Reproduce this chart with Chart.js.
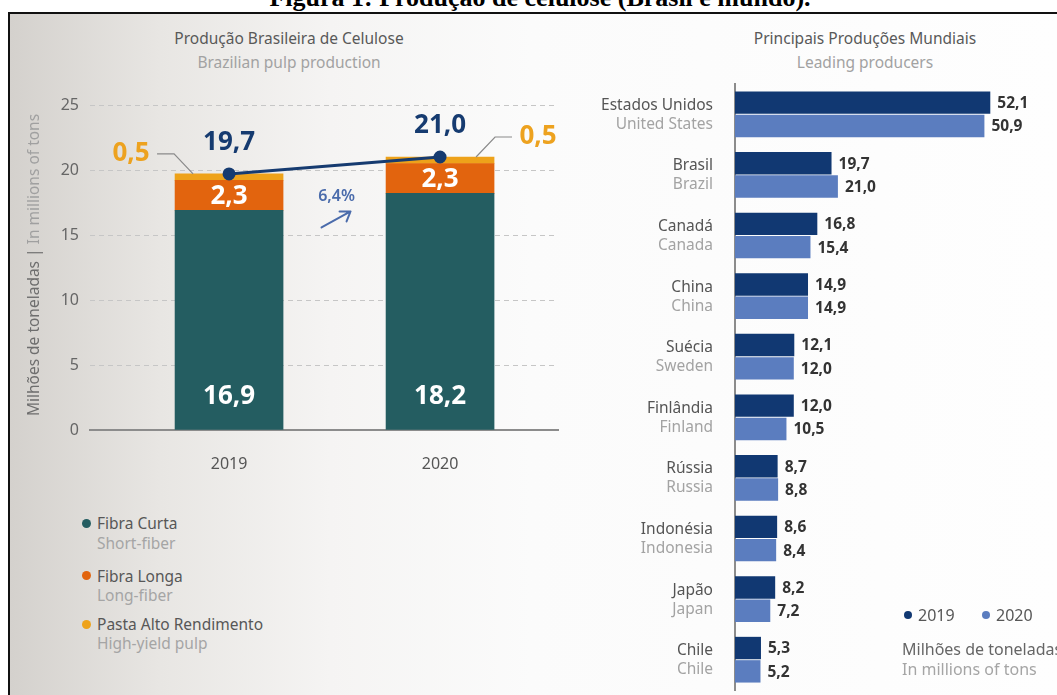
<!DOCTYPE html>
<html lang="pt">
<head>
<meta charset="UTF-8">
<title>Produção de celulose (Brasil e mundo)</title>
<style>
    body {
        margin: 0;
        background: #fff;
        font-family: 'Noto Sans', sans-serif;
    }
    #pagina {
        position: relative;
        width: 1057px;
        height: 695px;
        overflow: hidden;
        background: #fff;
    }
    .legenda-fig {
        position: absolute;
        left: 0;
        width: 1080px;
        top: -15px;
        text-align: center;
        font-family: 'Liberation Serif', 'Times New Roman', serif;
        font-weight: bold;
        font-size: 26px;
        line-height: 26px;
        color: #000;
        white-space: nowrap;
    }
    #quadro {
        position: absolute;
        left: 8px;
        top: 12px;
        right: 0;
        bottom: 0;
        border-left: 2px solid #111;
        border-top: 2px solid #111;
        background: linear-gradient(to right, #d4d1cd 0px, #e8e6e3 150px, #f5f4f3 320px, #fbfbfb 520px, #fefefe 100%);
    }
    canvas {
        position: absolute;
        top: 0;
    }
    .txt {
        position: absolute;
        white-space: nowrap;
        font-size: 15.5px;
        line-height: 20px;
    }
    .titulo { width: 400px; text-align: center; color: #595959; }
    .sub { width: 400px; text-align: center; color: #a2a2a2; }
    .leg { color: #575757; }
    .leg-en { color: #a5a5a5; }
    .ponto {
        position: absolute;
        width: 9px;
        height: 9px;
        border-radius: 50%;
    }
</style>
</head>
<body>
<div id="pagina">
    <div class="legenda-fig">Figura 1: Produção de celulose (Brasil e mundo).</div>
    <div id="quadro"></div>

    <div class="txt titulo" style="left:89px; top:28px;">Produção Brasileira de Celulose</div>
    <div class="txt sub" style="left:89px; top:52px;">Brazilian pulp production</div>
    <div class="txt titulo" style="left:665px; top:28px;">Principais Produções Mundiais</div>
    <div class="txt sub" style="left:665px; top:52px;">Leading producers</div>

    <canvas id="graficoBrasil" width="580" height="500" style="left:0;"></canvas>
    <canvas id="graficoMundo" width="477" height="695" style="left:580px;"></canvas>

    <!-- legenda do gráfico de barras empilhadas -->
    <div class="ponto" style="left:82px; top:519px; background:#245d61;"></div>
    <div class="txt leg" style="left:97px; top:513px;">Fibra Curta</div>
    <div class="txt leg-en" style="left:97px; top:533px;">Short-fiber</div>
    <div class="ponto" style="left:82px; top:571px; background:#e2640e;"></div>
    <div class="txt leg" style="left:97px; top:566px;">Fibra Longa</div>
    <div class="txt leg-en" style="left:97px; top:585px;">Long-fiber</div>
    <div class="ponto" style="left:82px; top:620px; background:#eea21a;"></div>
    <div class="txt leg" style="left:97px; top:614px;">Pasta Alto Rendimento</div>
    <div class="txt leg-en" style="left:97px; top:633px;">High-yield pulp</div>

    <!-- legenda do gráfico de produtores -->
    <div class="ponto" style="left:904px; top:611px; width:8px; height:8px; background:#113872;"></div>
    <div class="txt leg" style="left:918px; top:604px; font-size:16px; line-height:22px;">2019</div>
    <div class="ponto" style="left:982px; top:611px; width:8px; height:8px; background:#5b7dbf;"></div>
    <div class="txt leg" style="left:996px; top:604px; font-size:16px; line-height:22px;">2020</div>
    <div class="txt leg" style="left:902px; top:639px; font-size:16px; color:#666;">Milhões de toneladas</div>
    <div class="txt leg-en" style="left:902px; top:659px; font-size:16px;">In millions of tons</div>
</div>

<script src="https://cdn.jsdelivr.net/npm/chart.js"></script>
<script>
// Produção brasileira de celulose (milhões de toneladas)
const anos = [2019, 2020];
const fibraCurta = [16.9, 18.2];
const fibraLonga = [2.3, 2.3];
const altoRendimento = [0.5, 0.5];
const totais = [19.7, 21.0];
const crescimento = 6.4;

// Principais produtores mundiais
const paises = ['Estados Unidos', 'Brasil', 'Canadá', 'China', 'Suécia', 'Finlândia', 'Rússia', 'Indonésia', 'Japão', 'Chile'];
const countries = ['United States', 'Brazil', 'Canada', 'China', 'Sweden', 'Finland', 'Russia', 'Indonesia', 'Japan', 'Chile'];
const prod2019 = [52.1, 19.7, 16.8, 14.9, 12.1, 12.0, 8.7, 8.6, 8.2, 5.3];
const prod2020 = [50.9, 21.0, 15.4, 14.9, 12.0, 10.5, 8.8, 8.4, 7.2, 5.2];

const FONTE = "'Noto Sans', sans-serif";
Chart.defaults.font.family = FONTE;

function fmt(v) {
    return v.toFixed(1).replace('.', ',');
}

function pares(valores) {
    return anos.map((a, i) => ({ x: a, y: valores[i] }));
}

// rótulos, linhas de chamada e seta do gráfico brasileiro
const rotulosBrasil = {
    id: 'rotulosBrasil',
    afterDatasetsDraw(chart) {
        const ctx = chart.ctx;
        const yScale = chart.scales.y;
        const linha = chart.getDatasetMeta(0).data;
        const curta = chart.getDatasetMeta(1).data;
        const longa = chart.getDatasetMeta(2).data;
        const pasta = chart.getDatasetMeta(3).data;
        ctx.save();
        ctx.textAlign = 'center';
        ctx.textBaseline = 'middle';

        curta.forEach((bar, i) => {
            ctx.font = 'bold 26px ' + FONTE;
            ctx.fillStyle = '#ffffff';
            ctx.fillText(fmt(fibraCurta[i]), bar.x, yScale.getPixelForValue(0) - 33);
        });

        longa.forEach((bar, i) => {
            ctx.font = 'bold 26px ' + FONTE;
            ctx.fillStyle = '#ffffff';
            ctx.fillText(fmt(fibraLonga[i]), bar.x, (bar.y + bar.base) / 2 + 1);
        });

        pasta.forEach((bar, i) => {
            const lado = i === 0 ? -1 : 1;
            const topo = bar.y;
            ctx.strokeStyle = '#8a8a8a';
            ctx.lineWidth = 1.2;
            ctx.beginPath();
            ctx.moveTo(bar.x + lado * 36, topo);
            ctx.lineTo(bar.x + lado * 55, topo - 20);
            ctx.lineTo(bar.x + lado * 72, topo - 20);
            ctx.stroke();
            ctx.font = 'bold 26px ' + FONTE;
            ctx.fillStyle = '#eda21f';
            ctx.fillText(fmt(altoRendimento[i]), bar.x + lado * 98, topo - 20);
        });

        linha.forEach((pt, i) => {
            ctx.font = 'bold 26px ' + FONTE;
            ctx.fillStyle = '#163b70';
            ctx.fillText(fmt(totais[i]), pt.x, pt.y - 31);
        });

        // variação entre os anos
        const mx = (pasta[0].x + pasta[1].x) / 2;
        const my = (pasta[0].y + pasta[1].y) / 2 + 31;
        ctx.font = '600 16px ' + FONTE;
        ctx.fillStyle = '#4a6bab';
        ctx.fillText(fmt(crescimento) + '%', mx + 2, my);
        ctx.strokeStyle = '#4a6bab';
        ctx.lineWidth = 2;
        ctx.lineCap = 'round';
        ctx.beginPath();
        ctx.moveTo(mx - 13, my + 31);
        ctx.lineTo(mx + 16, my + 15);
        ctx.moveTo(mx + 16, my + 15);
        ctx.lineTo(mx + 5, my + 15);
        ctx.moveTo(mx + 16, my + 15);
        ctx.lineTo(mx + 12, my + 25);
        ctx.stroke();

        // título do eixo vertical em duas cores
        ctx.translate(35, 265);
        ctx.rotate(-Math.PI / 2);
        ctx.font = '15.5px ' + FONTE;
        const pt1 = 'Milhões de toneladas | ';
        const pt2 = 'In millions of tons';
        const w1 = ctx.measureText(pt1).width;
        const w2 = ctx.measureText(pt2).width;
        ctx.textAlign = 'left';
        ctx.fillStyle = '#6e6e6e';
        ctx.fillText(pt1, -(w1 + w2) / 2, 0);
        ctx.fillStyle = '#a0a0a0';
        ctx.fillText(pt2, -(w1 + w2) / 2 + w1, 0);
        ctx.restore();
    }
};

new Chart(document.getElementById('graficoBrasil'), {
    type: 'bar',
    data: {
        datasets: [
            {
                type: 'line',
                label: 'Total',
                data: pares(totais),
                stack: 'total',
                order: 0,
                borderColor: '#163b70',
                backgroundColor: '#163b70',
                borderWidth: 3,
                pointRadius: 5,
                pointHoverRadius: 5
            },
            {
                label: 'Fibra Curta',
                data: pares(fibraCurta),
                stack: 'celulose',
                order: 1,
                backgroundColor: '#245d61',
                barThickness: 108
            },
            {
                label: 'Fibra Longa',
                data: pares(fibraLonga),
                stack: 'celulose',
                order: 1,
                backgroundColor: '#e2640e',
                barThickness: 108
            },
            {
                label: 'Pasta Alto Rendimento',
                data: pares(altoRendimento),
                stack: 'celulose',
                order: 1,
                backgroundColor: '#eea21a',
                barThickness: 108
            }
        ]
    },
    options: {
        responsive: false,
        animation: false,
        devicePixelRatio: 1,
        layout: { padding: { top: 105, right: 22, bottom: 0, left: 0 } },
        plugins: {
            legend: { display: false },
            tooltip: { enabled: false }
        },
        scales: {
            x: {
                type: 'linear',
                stacked: true,
                offset: false,
                min: 2018.341,
                max: 2020.559,
                grid: { display: false },
                border: { display: true, color: '#8c8c8c', width: 2 },
                afterBuildTicks: s => { s.ticks = anos.map(v => ({ value: v })); },
                ticks: { padding: 17, color: '#555', font: { size: 16 }, callback: v => String(v) },
                afterFit: s => { s.height = 70; }
            },
            y: {
                stacked: true,
                min: 0,
                max: 25,
                ticks: { stepSize: 5, padding: 11, color: '#666', font: { size: 16 } },
                grid: { color: '#c6c6c6', drawTicks: false, lineWidth: 1 },
                border: { display: false, dash: [5, 4] },
                afterFit: s => { s.width = 90; }
            }
        }
    },
    plugins: [rotulosBrasil]
});

// nomes dos países e valores das barras
const rotulosMundo = {
    id: 'rotulosMundo',
    afterDraw(chart) {
        const ctx = chart.ctx;
        const ys = chart.scales.y;
        const xNome = chart.chartArea.left - 22;
        ctx.save();
        ctx.textBaseline = 'middle';
        ctx.textAlign = 'right';
        ctx.font = '15.5px ' + FONTE;
        paises.forEach((p, i) => {
            const y = ys.getPixelForValue(i);
            ctx.fillStyle = '#555';
            ctx.fillText(p, xNome, y - 9);
            ctx.fillStyle = '#a3a3a3';
            ctx.fillText(countries[i], xNome, y + 10);
        });
        ctx.textAlign = 'left';
        ctx.font = 'bold 15.5px ' + FONTE;
        ctx.fillStyle = '#333';
        chart.data.datasets.forEach((ds, d) => {
            chart.getDatasetMeta(d).data.forEach((bar, i) => {
                ctx.fillText(fmt(ds.data[i]), bar.x + 7, bar.y + 1);
            });
        });
        ctx.restore();
    }
};

new Chart(document.getElementById('graficoMundo'), {
    type: 'bar',
    data: {
        labels: paises,
        datasets: [
            {
                label: '2019',
                data: prod2019,
                backgroundColor: '#113872',
                categoryPercentage: 0.77,
                barPercentage: 0.96
            },
            {
                label: '2020',
                data: prod2020,
                backgroundColor: '#5b7dbf',
                categoryPercentage: 0.77,
                barPercentage: 0.96
            }
        ]
    },
    options: {
        indexAxis: 'y',
        responsive: false,
        animation: false,
        devicePixelRatio: 1,
        layout: { padding: { top: 84, right: 28, bottom: 5, left: 0 } },
        plugins: {
            legend: { display: false },
            tooltip: { enabled: false }
        },
        scales: {
            x: { display: false, min: 0, max: 60 },
            y: {
                grid: { display: false },
                ticks: { display: false },
                border: { display: true, color: '#8c8c8c', width: 2 },
                afterFit: s => { s.width = 155; }
            }
        }
    },
    plugins: [rotulosMundo]
});
</script>
</body>
</html>
